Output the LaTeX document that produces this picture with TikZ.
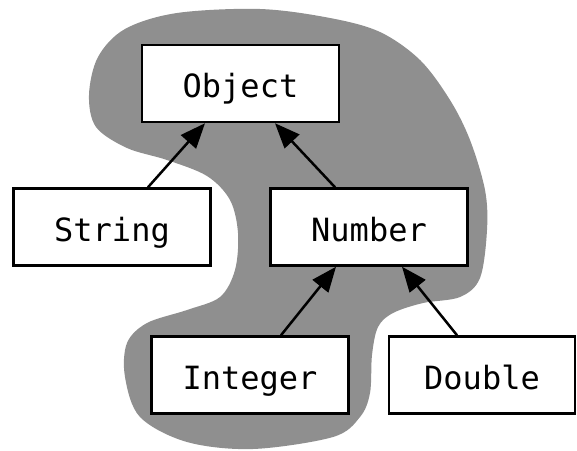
\documentclass[tikz,border=0pt]{standalone}
\usepackage{fontspec}
\setmonofont{DejaVu Sans Mono}
\usetikzlibrary{arrows.meta,calc}
\definecolor{blobgray}{RGB}{143,143,143}
\tikzset{
  classbox/.style={draw=black, fill=white, line width=2.5pt, minimum width=197pt, minimum height=77pt, inner sep=0pt, text height=30pt, text depth=2pt, font=\fontsize{32}{36}\selectfont\ttfamily},
  inherit/.style={line width=2.5pt, -{Triangle[length=25pt,width=20pt]}}
}
\begin{document}
\begin{tikzpicture}[x=1pt,y=-1pt]
\useasboundingbox (0,0) rectangle (577,450);
\fill[blobgray] plot[smooth cycle, tension=0.55] coordinates {
 (260,9) (330,18) (380,32) (420,60) (450,100) (470,140) (485,190) (487,230)
 (480,278) (460,297) (423,303) (393,313) (378,327) (372,355) (370,393)
 (360,417) (333,437) (253,449) (187,442) (140,417) (125,377) (127,343)
 (147,323) (187,310) (220,297) (235,270) (238,233) (230,200) (207,176)
 (167,160) (127,148) (96,127) (89,95) (98,57) (125,29) (177,13)};
\node[classbox] (object) at (240.5,83.5) {Object};
\node[classbox] (string) at (112,227) {String};
\node[classbox] (number) at (369,227) {Number};
\node[classbox] (integer) at (250,375) {Integer};
\node[classbox, minimum width=186pt] (double) at (482,375) {Double};
\draw[inherit] ($(string.north)+(36,0)$) -- ($(object.south)+(-35.5,0)$);
\draw[inherit] ($(number.north)+(-34,0)$) -- ($(object.south)+(34.5,0)$);
\draw[inherit] ($(integer.north)+(31,0)$) -- ($(number.south)+(-33,0)$);
\draw[inherit] ($(double.north)+(-25,0)$) -- ($(number.south)+(33,0)$);
\end{tikzpicture}
\end{document}
